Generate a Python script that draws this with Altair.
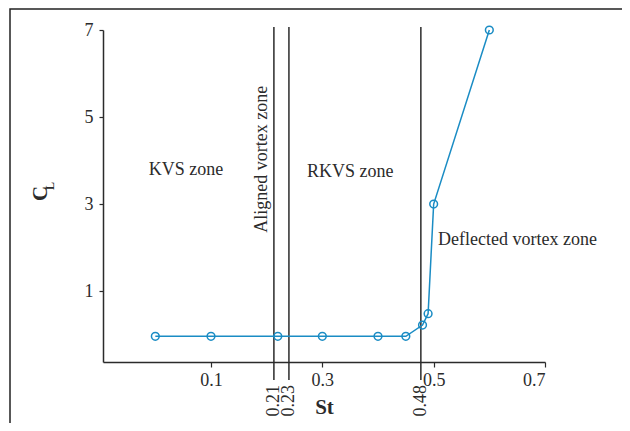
import altair as alt
import pandas as pd

# data
st = [0.0, 0.1, 0.22, 0.3, 0.4, 0.45, 0.48, 0.49, 0.5, 0.6]
cl = [-0.04, -0.04, -0.04, -0.04, -0.04, -0.04, 0.22, 0.48, 3.0, 7.0]

zone_st = [0.213, 0.24, 0.477]
zone_lab = ["0.21", "0.23", "0.48"]

ann_text = ["KVS zone", "RKVS zone", "Deflected vortex zone"]
ann_st = [0.055, 0.35, 0.508]
ann_cl = [3.78, 3.74, 2.17]
ann_align = ["center", "center", "left"]

rot_text = ["Aligned vortex zone"]
rot_st = [0.192]
rot_cl = [4.03]

x_ticks = [0.1, 0.3, 0.5, 0.7]
y_ticks = [1, 3, 5, 7]
x_dom = [-0.094, 0.7]
y_dom = [-0.63, 7.0]

FONT = "Liberation Serif"
BLUE = "#1a8cc4"
DARK = "#2b2b2b"

df = pd.DataFrame({"St": st, "CL": cl})
zones = pd.DataFrame({"St": zone_st, "lab": zone_lab})
ann = pd.DataFrame({"St": ann_st, "CL": ann_cl, "t": ann_text, "a": ann_align})
rot = pd.DataFrame({"St": rot_st, "CL": rot_cl, "t": rot_text})

xs = alt.Scale(domain=x_dom, nice=False, zero=False)
ys = alt.Scale(domain=y_dom, nice=False, zero=False)

x_enc = alt.X("St:Q", scale=xs, title="St",
              axis=alt.Axis(values=x_ticks, format=".1f", grid=False,
                            labelFont=FONT, labelFontSize=18, labelColor=DARK,
                            labelPadding=4,
                            titleFont=FONT, titleFontSize=21, titleFontWeight="bold",
                            titleColor=DARK, titlePadding=7,
                            domainColor=DARK, domainWidth=1.5,
                            tickColor=DARK, tickSize=5, tickWidth=1.2))
y_enc = alt.Y("CL:Q", scale=ys, title="C",
              axis=alt.Axis(values=y_ticks, format="d", grid=False,
                            labelFont=FONT, labelFontSize=18, labelColor=DARK,
                            labelPadding=6,
                            titleFont=FONT, titleFontSize=21, titleFontWeight="bold",
                            titleColor=DARK, titleAngle=270, titleX=-63, titleY=163,
                            titleAlign="center", titleBaseline="middle",
                            domainColor=DARK, domainWidth=1.5,
                            tickColor=DARK, tickSize=4, tickWidth=1.2))

line = alt.Chart(df).mark_line(color=BLUE, strokeWidth=1.5).encode(x=x_enc, y=y_enc)
pts = alt.Chart(df).mark_point(shape="circle", filled=False, size=60,
                               color=BLUE, strokeWidth=1.5, opacity=1).encode(
    x=alt.X("St:Q", scale=xs), y=alt.Y("CL:Q", scale=ys))

rules = alt.Chart(zones).mark_rule(color=DARK, strokeWidth=1.5).encode(
    x=alt.X("St:Q", scale=xs), y=alt.value(-3), y2=alt.value(350))

rule_labels = alt.Chart(zones).mark_text(
    angle=270, align="right", baseline="middle", font=FONT, fontSize=18, color=DARK
).encode(x=alt.X("St:Q", scale=xs), y=alt.value(355), text="lab:N")

ann_c = alt.Chart(ann[ann.a == "center"]).mark_text(
    align="center", baseline="middle", font=FONT, fontSize=18, color=DARK
).encode(x=alt.X("St:Q", scale=xs), y=alt.Y("CL:Q", scale=ys), text="t:N")
ann_l = alt.Chart(ann[ann.a == "left"]).mark_text(
    align="left", baseline="middle", font=FONT, fontSize=18, color=DARK
).encode(x=alt.X("St:Q", scale=xs), y=alt.Y("CL:Q", scale=ys), text="t:N")
ann_r = alt.Chart(rot).mark_text(
    angle=270, align="center", baseline="middle", font=FONT, fontSize=18, color=DARK
).encode(x=alt.X("St:Q", scale=xs), y=alt.Y("CL:Q", scale=ys), text="t:N")

sub = alt.Chart(pd.DataFrame({"s": ["L"]})).mark_text(
    angle=270, align="center", baseline="middle", font=FONT, fontSize=12,
    fontWeight="bold", color=DARK
).encode(x=alt.value(-53), y=alt.value(156), text="s:N")

frame = alt.Chart(pd.DataFrame({"k": [0]})).mark_rect(
    filled=False, stroke="#222222", strokeWidth=1.5
).encode(x=alt.value(-93), x2=alt.value(522), y=alt.value(-21), y2=alt.value(430))

chart = alt.layer(frame, rules, line, pts, rule_labels, ann_c, ann_l, ann_r, sub).properties(
    width=442, height=332,
    autosize=alt.AutoSizeParams(type="none"),
    padding={"left": 95, "top": 22, "right": 77, "bottom": 61},
    background="white",
).configure_view(stroke=None)

chart.save("out.html", embed_options={"renderer": "svg", "actions": False})
